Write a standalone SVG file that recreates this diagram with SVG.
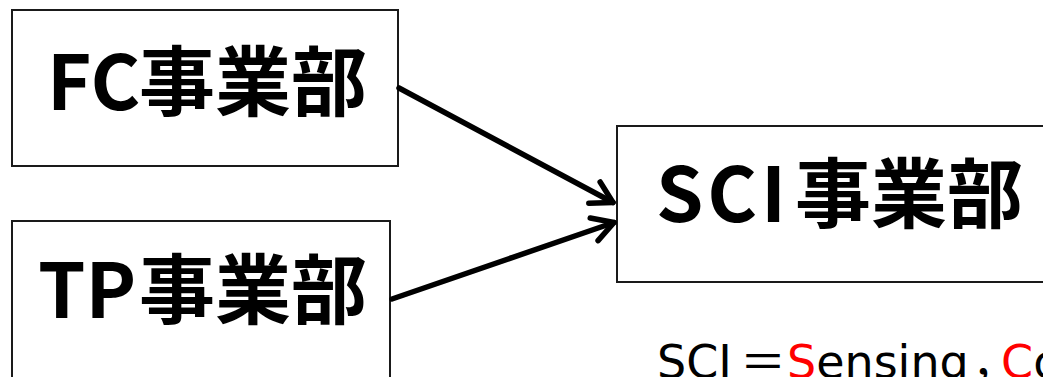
<svg xmlns="http://www.w3.org/2000/svg" width="1043" height="377" viewBox="0 0 1043 377">
<style>
.box{fill:#fff;stroke:#1a1a1a;stroke-width:2}
.title{font-family:"Noto Sans CJK JP","Noto Sans",sans-serif;font-weight:bold;font-size:76px;fill:#000}
.conn{stroke:#000;stroke-width:5.5;stroke-linecap:round;fill:none}
.note{font-family:"DejaVu Sans","Noto Sans CJK JP",sans-serif;font-size:46px;fill:#000}
.red{fill:#ff0000}
</style>
<defs>
<marker id="arr" markerUnits="userSpaceOnUse" viewBox="-30 -20 40 40" refX="0" refY="0" markerWidth="40" markerHeight="40" orient="auto">
<path d="M -21,-12 L 0,0 L -21,12" fill="none" stroke="#000" stroke-width="5.5" stroke-linecap="round" stroke-linejoin="round"/>
</marker>
</defs>
<rect width="1043" height="377" fill="#fff"/>
<g id="node-fc">
<rect class="box" x="12" y="10" width="386" height="156"/>
<text class="title" x="47" y="110">FC<tspan x="139">事業部</tspan></text>
</g>
<g id="node-tp">
<rect class="box" x="12" y="221" width="378" height="170"/>
<text class="title" x="38" y="318">TP<tspan x="139">事業部</tspan></text>
</g>
<g id="node-sci">
<rect class="box" x="617" y="126" width="440" height="156"/>
<text class="title" x="656" y="222"><tspan textLength="130" lengthAdjust="spacing">SCI</tspan><tspan x="795">事業部</tspan></text>
</g>
<g id="connectors">
<line class="conn" x1="399" y1="88" x2="613" y2="202.5" marker-end="url(#arr)"/>
<line class="conn" x1="392" y1="299" x2="614" y2="222.5" marker-end="url(#arr)"/>
</g>
<g id="note">
<text class="note" y="378"><tspan x="657">SCI</tspan><tspan x="740">＝</tspan><tspan x="787" class="red">S</tspan><tspan>ensing</tspan><tspan x="972">，</tspan><tspan x="1001" class="red">C</tspan><tspan>o</tspan></text>
</g>
</svg>
